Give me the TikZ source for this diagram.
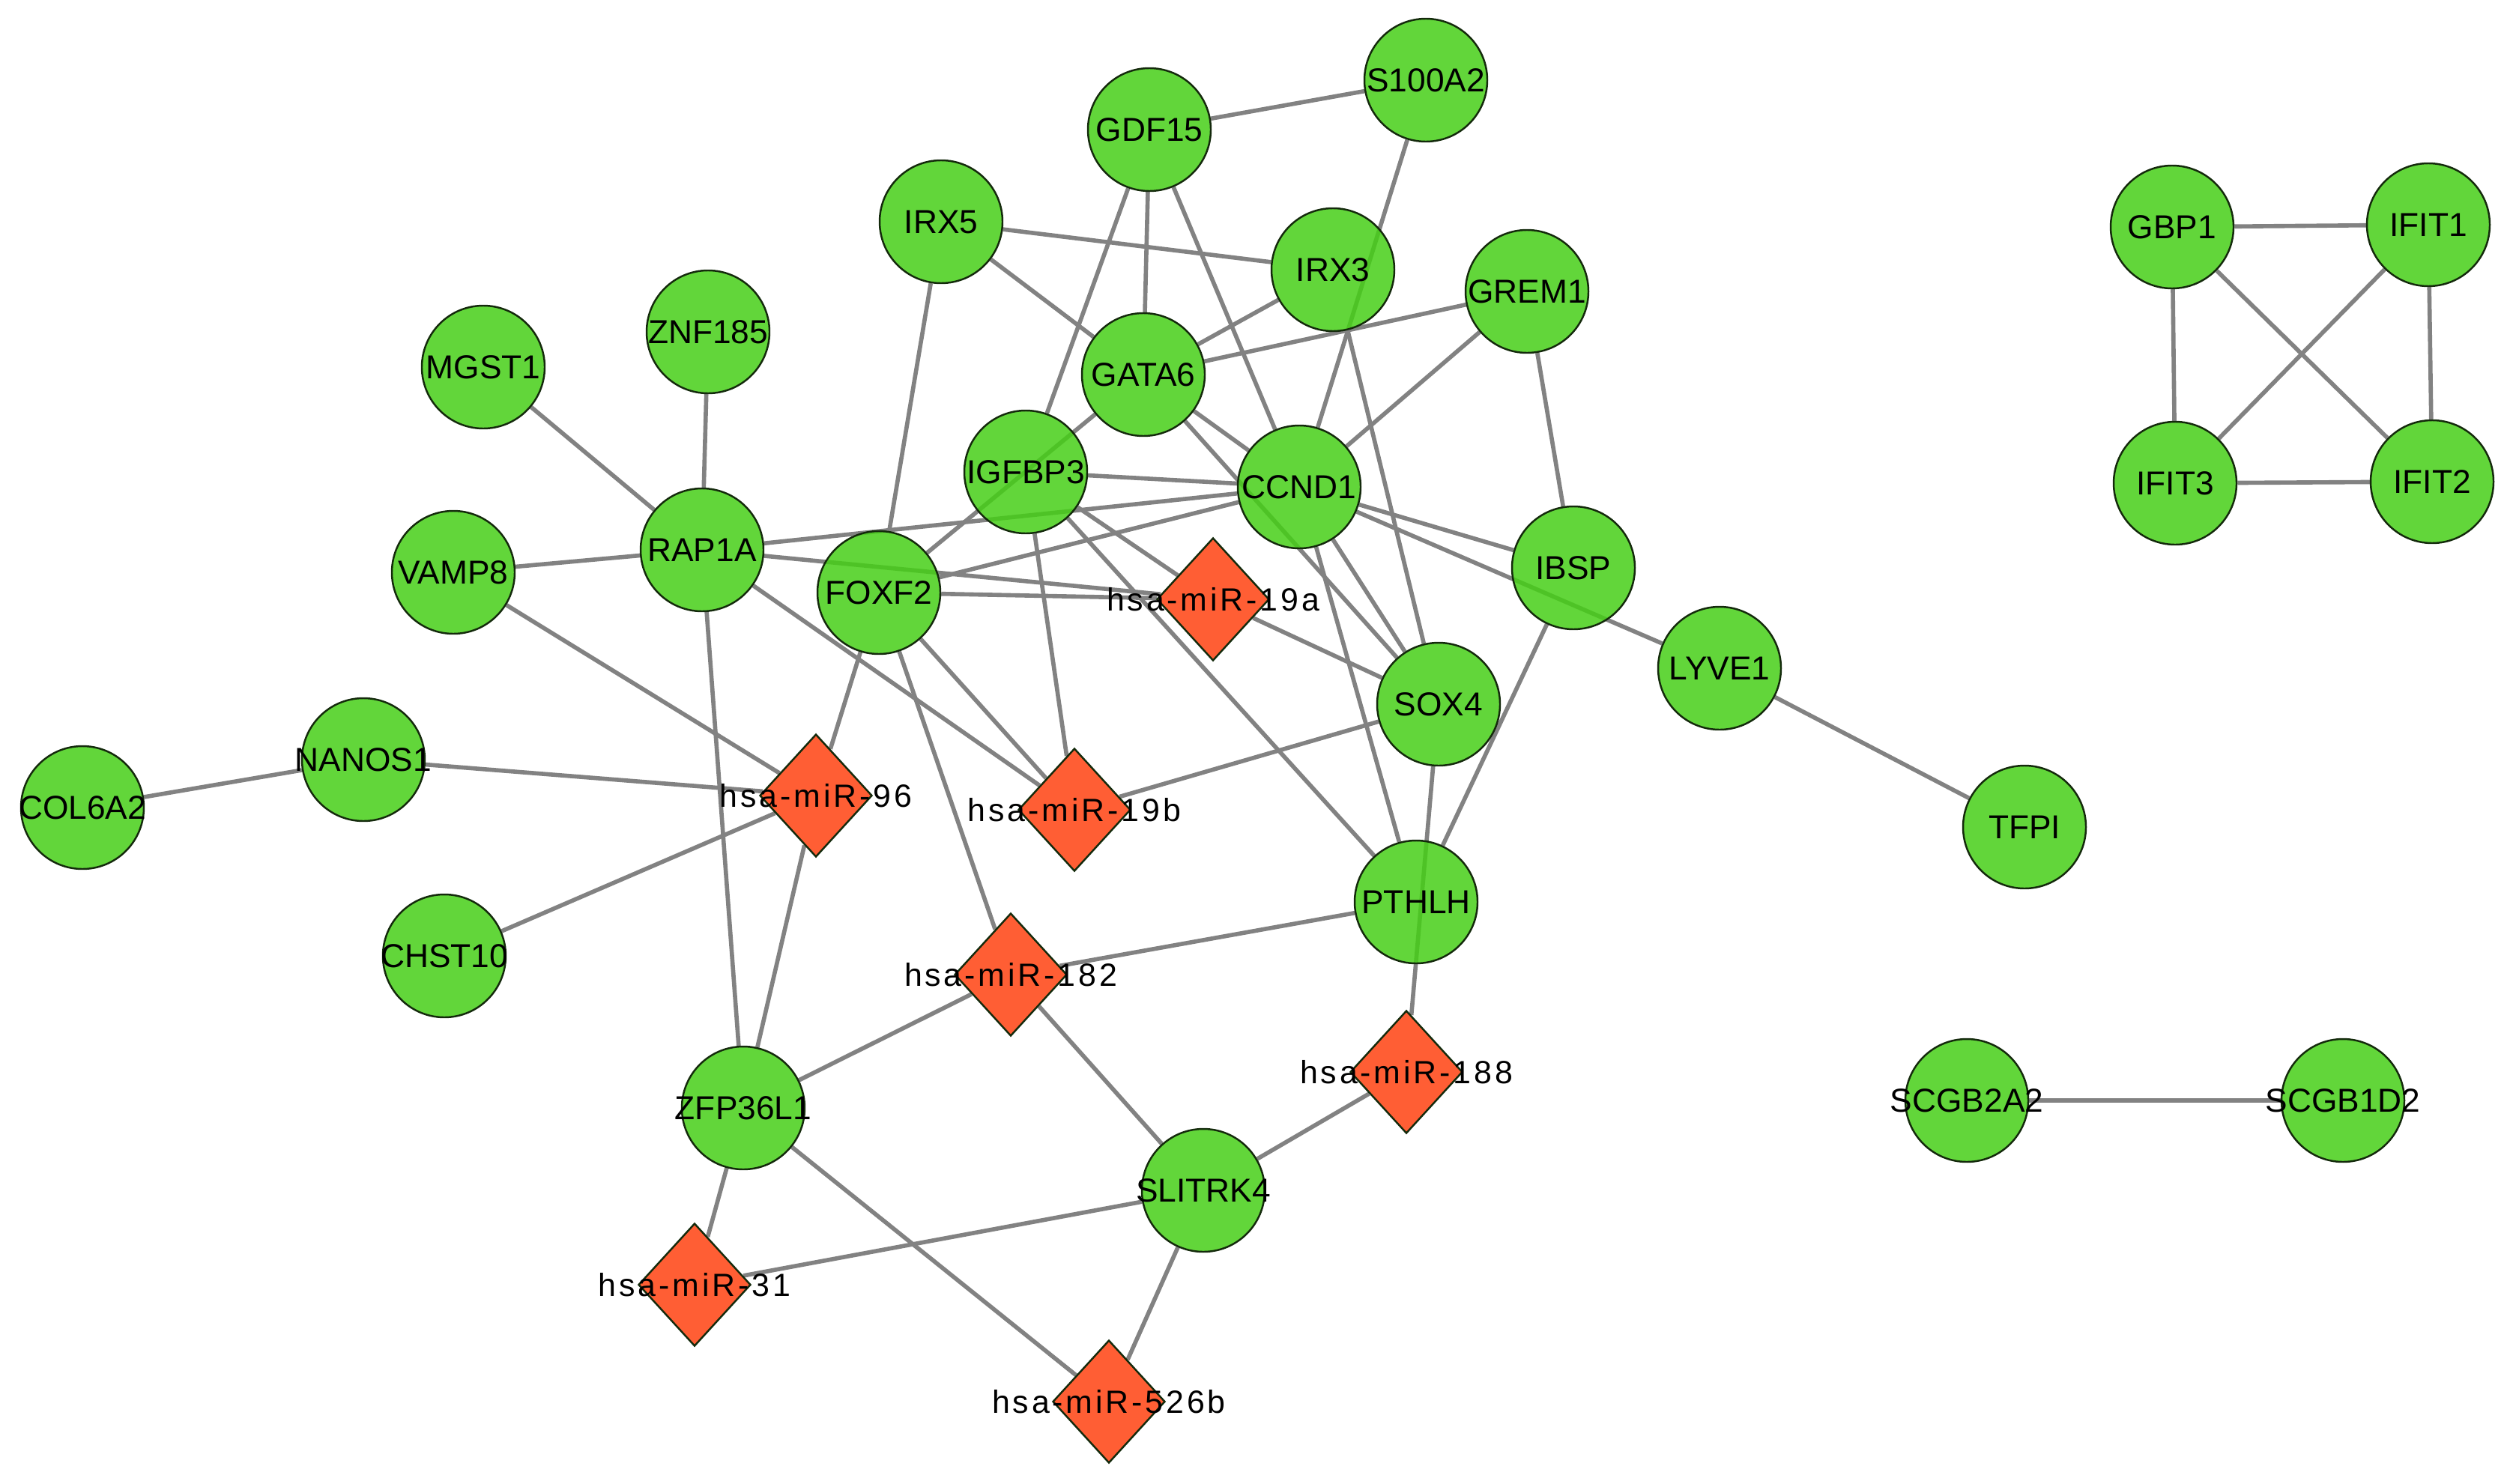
\documentclass[tikz,border=0pt]{standalone}
\usepackage{fontspec}
\setmainfont{Liberation Sans}
\newfontfamily\mirfont[LetterSpace=9]{Liberation Sans}
\usepackage{tikz}
\usetikzlibrary{shapes.geometric,backgrounds}
\definecolor{genegreen}{RGB}{70,207,23}
\definecolor{mirred}{RGB}{255,94,52}
\definecolor{edgegray}{RGB}{130,130,130}
\definecolor{nodeline}{RGB}{20,42,12}

\begin{document}
\begin{tikzpicture}[
    gene/.style={circle, draw=nodeline, line width=0.7pt, fill=genegreen, fill opacity=0.85, draw opacity=1, minimum size=1.64cm, inner sep=0pt},
    mirna/.style={diamond, draw=nodeline, line width=0.7pt, fill=mirred, minimum width=1.5cm, minimum height=1.64cm, inner sep=0pt},
    genelab/.style={font=\fontsize{12.6}{14}\selectfont, text=black, text opacity=1, inner sep=0pt},
    mirlab/.style={font=\mirfont\fontsize{12.2}{14}\selectfont, text=black, text opacity=1, inner sep=0pt},
    link/.style={draw=edgegray, line width=1.6pt}
]
    % Frame
    \useasboundingbox (0,0) rectangle (33.54,-19.80);

    % Genes
    \node[gene, label={[genelab]center:S100A2}] (s100a2) at (19.03,-1.07) {};
    \node[gene, label={[genelab]center:GDF15}] (gdf15) at (15.34,-1.73) {};
    \node[gene, label={[genelab]center:IRX5}] (irx5) at (12.56,-2.96) {};
    \node[gene, label={[genelab]center:IRX3}] (irx3) at (17.79,-3.60) {};
    \node[gene, label={[genelab]center:GREM1}] (grem1) at (20.38,-3.89) {};
    \node[gene, label={[genelab]center:GATA6}] (gata6) at (15.26,-5.00) {};
    \node[gene, label={[genelab]center:ZNF185}] (znf185) at (9.45,-4.43) {};
    \node[gene, label={[genelab]center:MGST1}] (mgst1) at (6.45,-4.90) {};
    \node[gene, label={[genelab]center:IGFBP3}] (igfbp3) at (13.69,-6.30) {};
    \node[gene, label={[genelab]center:CCND1}] (ccnd1) at (17.34,-6.50) {};
    \node[gene, label={[genelab]center:RAP1A}] (rap1a) at (9.37,-7.34) {};
    \node[gene, label={[genelab]center:VAMP8}] (vamp8) at (6.05,-7.64) {};
    \node[gene, label={[genelab]center:FOXF2}] (foxf2) at (11.73,-7.91) {};
    \node[gene, label={[genelab]center:IBSP}] (ibsp) at (21.00,-7.58) {};
    \node[gene, label={[genelab]center:LYVE1}] (lyve1) at (22.95,-8.92) {};
    \node[gene, label={[genelab]center:SOX4}] (sox4) at (19.20,-9.40) {};
    \node[gene, label={[genelab]center:NANOS1}] (nanos1) at (4.85,-10.14) {};
    \node[gene, label={[genelab]center:COL6A2}] (col6a2) at (1.10,-10.78) {};
    \node[gene, label={[genelab]center:TFPI}] (tfpi) at (27.02,-11.04) {};
    \node[gene, label={[genelab]center:PTHLH}] (pthlh) at (18.90,-12.04) {};
    \node[gene, label={[genelab]center:CHST10}] (chst10) at (5.93,-12.76) {};
    \node[gene, label={[genelab]center:ZFP36L1}] (zfp36l1) at (9.92,-14.79) {};
    \node[gene, label={[genelab]center:SLITRK4}] (slitrk4) at (16.06,-15.89) {};

    % Separate clusters on the right
    \node[gene, label={[genelab]center:GBP1}] (gbp1) at (28.99,-3.03) {};
    \node[gene, label={[genelab]center:IFIT1}] (ifit1) at (32.41,-3.00) {};
    \node[gene, label={[genelab]center:IFIT3}] (ifit3) at (29.03,-6.45) {};
    \node[gene, label={[genelab]center:IFIT2}] (ifit2) at (32.46,-6.43) {};
    \node[gene, label={[genelab]center:SCGB2A2}] (scgb2a2) at (26.25,-14.69) {};
    \node[gene, label={[genelab]center:SCGB1D2}] (scgb1d2) at (31.27,-14.69) {};

    % miRNAs
    \node[mirna, label={[mirlab]center:hsa-miR-19a}] (mir19a) at (16.19,-8.00) {};
    \node[mirna, label={[mirlab]center:hsa-miR-96}] (mir96) at (10.89,-10.62) {};
    \node[mirna, label={[mirlab]center:hsa-miR-19b}] (mir19b) at (14.34,-10.81) {};
    \node[mirna, label={[mirlab]center:hsa-miR-182}] (mir182) at (13.49,-13.01) {};
    \node[mirna, label={[mirlab]center:hsa-miR-188}] (mir188) at (18.77,-14.31) {};
    \node[mirna, label={[mirlab]center:hsa-miR-31}] (mir31) at (9.27,-17.15) {};
    \node[mirna, label={[mirlab]center:hsa-miR-526b}] (mir526b) at (14.80,-18.71) {};

    % Interactions (behind the nodes)
    \begin{scope}[on background layer]
        \draw[link] (gdf15) -- (s100a2);
        \draw[link] (gdf15) -- (gata6);
        \draw[link] (gdf15) -- (igfbp3);
        \draw[link] (gdf15) -- (ccnd1);
        \draw[link] (s100a2) -- (ccnd1);
        \draw[link] (irx5) -- (irx3);
        \draw[link] (irx5) -- (gata6);
        \draw[link] (irx5) -- (foxf2);
        \draw[link] (irx3) -- (gata6);
        \draw[link] (irx3) -- (sox4);
        \draw[link] (grem1) -- (gata6);
        \draw[link] (grem1) -- (ccnd1);
        \draw[link] (grem1) -- (ibsp);
        \draw[link] (gata6) -- (ccnd1);
        \draw[link] (gata6) -- (foxf2);
        \draw[link] (gata6) -- (sox4);
        \draw[link] (igfbp3) -- (ccnd1);
        \draw[link] (igfbp3) -- (mir19a);
        \draw[link] (igfbp3) -- (mir19b);
        \draw[link] (igfbp3) -- (pthlh);
        \draw[link] (ccnd1) -- (rap1a);
        \draw[link] (ccnd1) -- (foxf2);
        \draw[link] (ccnd1) -- (ibsp);
        \draw[link] (ccnd1) -- (lyve1);
        \draw[link] (ccnd1) -- (sox4);
        \draw[link] (ccnd1) -- (pthlh);
        \draw[link] (rap1a) -- (mgst1);
        \draw[link] (rap1a) -- (znf185);
        \draw[link] (rap1a) -- (vamp8);
        \draw[link] (rap1a) -- (mir19a);
        \draw[link] (rap1a) -- (mir19b);
        \draw[link] (rap1a) -- (zfp36l1);
        \draw[link] (vamp8) -- (mir96);
        \draw[link] (nanos1) -- (col6a2);
        \draw[link] (nanos1) -- (mir96);
        \draw[link] (chst10) -- (mir96);
        \draw[link] (foxf2) -- (mir96);
        \draw[link] (foxf2) -- (mir19a);
        \draw[link] (foxf2) -- (mir19b);
        \draw[link] (foxf2) -- (mir182);
        \draw[link] (mir19a) -- (sox4);
        \draw[link] (mir19b) -- (sox4);
        \draw[link] (sox4) -- (mir188);
        \draw[link] (ibsp) -- (pthlh);
        \draw[link] (lyve1) -- (tfpi);
        \draw[link] (pthlh) -- (mir182);
        \draw[link] (mir96) -- (zfp36l1);
        \draw[link] (mir182) -- (zfp36l1);
        \draw[link] (mir182) -- (slitrk4);
        \draw[link] (mir188) -- (slitrk4);
        \draw[link] (zfp36l1) -- (mir31);
        \draw[link] (zfp36l1) -- (mir526b);
        \draw[link] (slitrk4) -- (mir31);
        \draw[link] (slitrk4) -- (mir526b);
        \draw[link] (gbp1) -- (ifit1);
        \draw[link] (gbp1) -- (ifit3);
        \draw[link] (gbp1) -- (ifit2);
        \draw[link] (ifit1) -- (ifit3);
        \draw[link] (ifit1) -- (ifit2);
        \draw[link] (ifit3) -- (ifit2);
        \draw[link] (scgb2a2) -- (scgb1d2);
    \end{scope}
\end{tikzpicture}
\end{document}
